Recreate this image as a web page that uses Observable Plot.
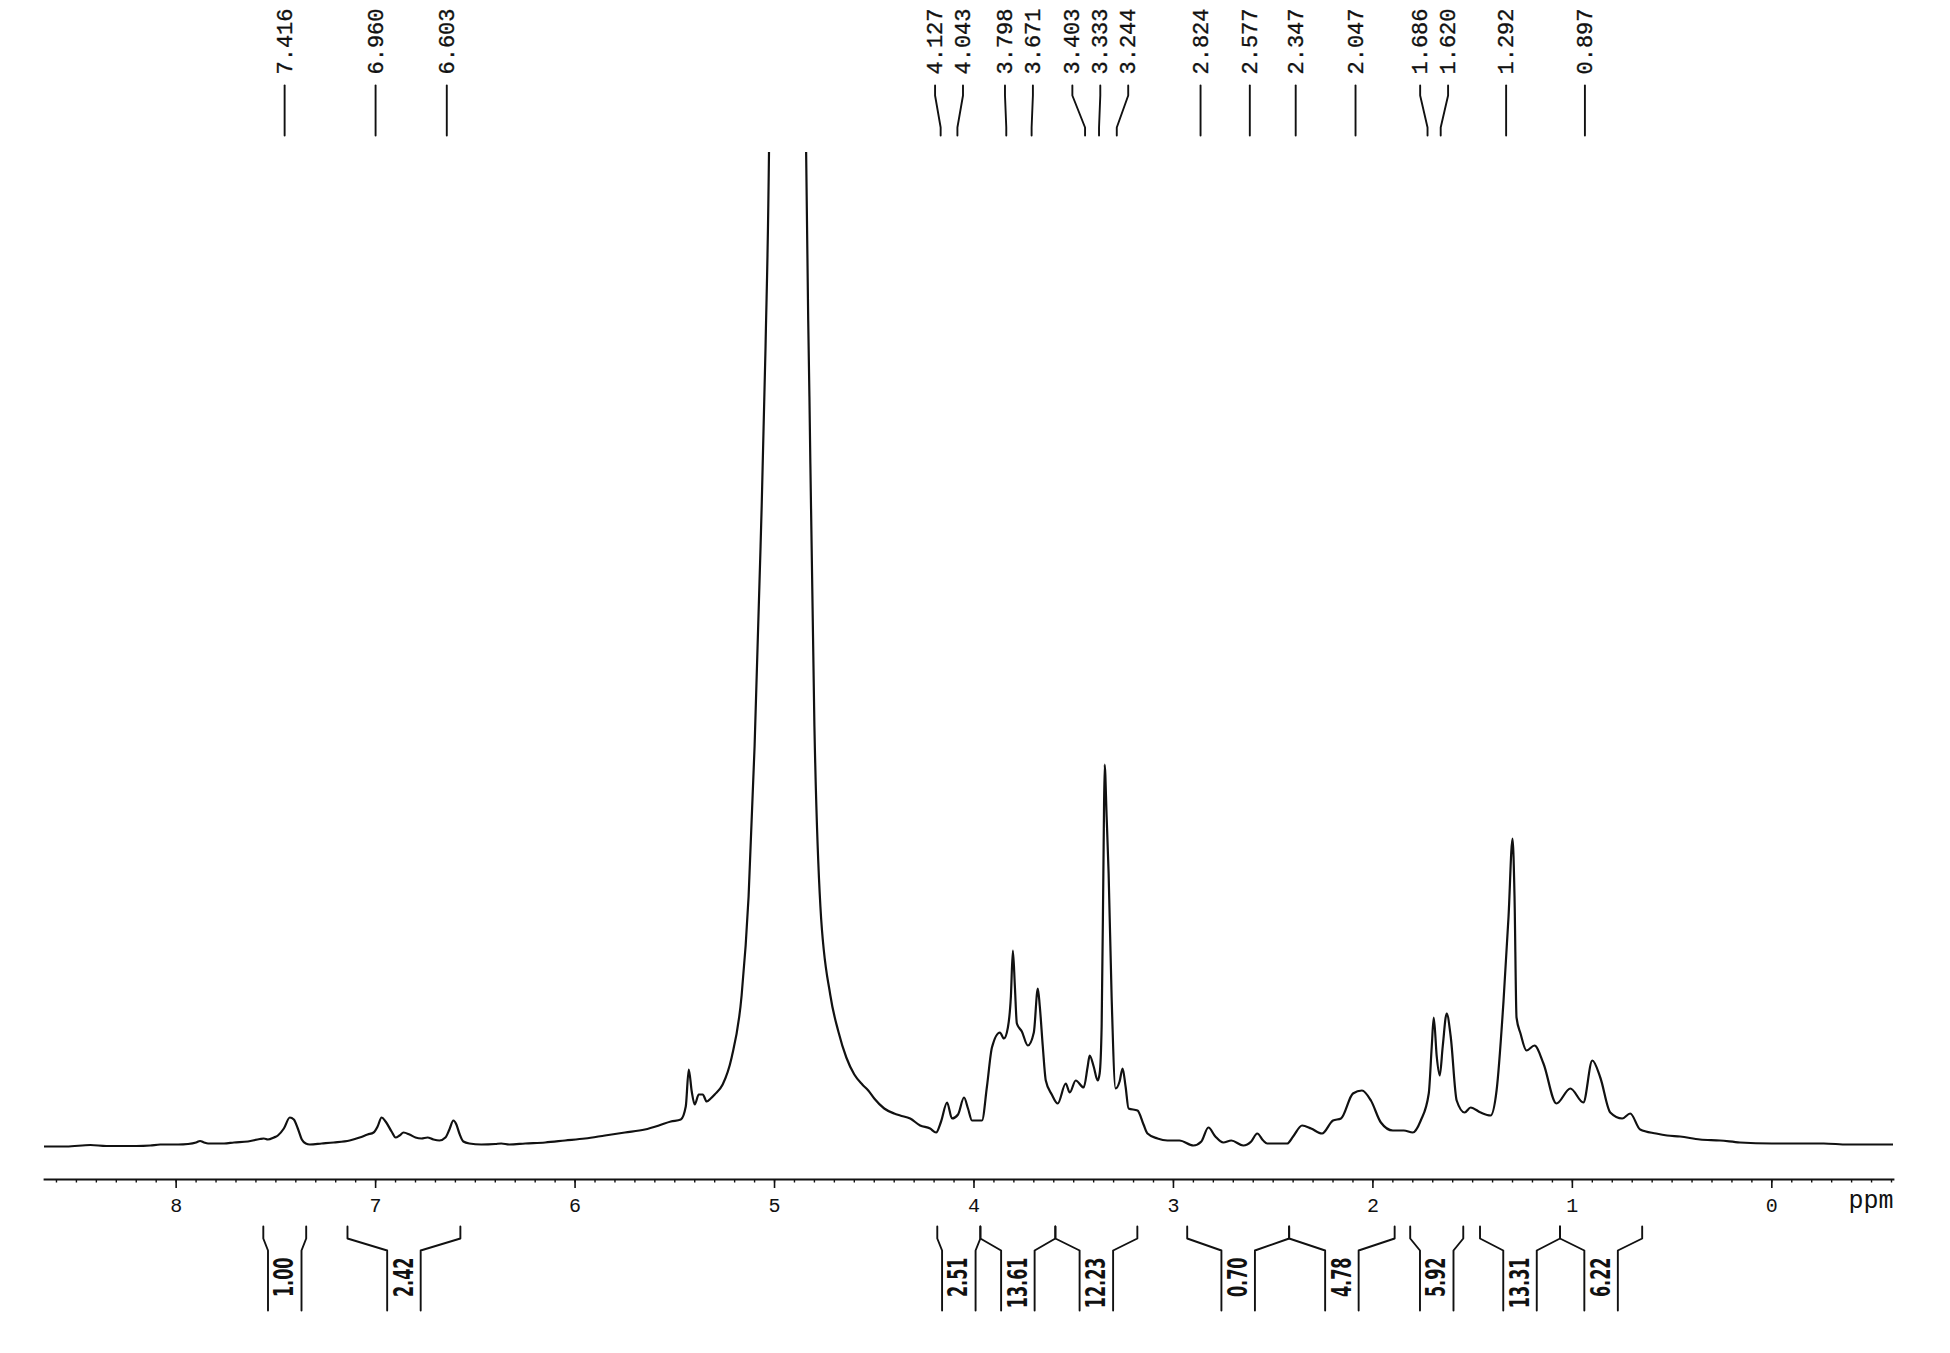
<!DOCTYPE html>
<html><head><meta charset="utf-8">
<script src="https://cdn.jsdelivr.net/npm/d3@7"></script>
<script src="https://cdn.jsdelivr.net/npm/@observablehq/plot@0.6"></script>
<style>body{margin:0;background:#fff}</style>
</head><body><div id="chart"></div>
<script>
// ---- data (chemical shift in ppm, intensity in arbitrary units) ----
const specPpm = [8.66,8.55,8.43,8.35,8.20,8.13,8.08,7.99,7.94,7.90,7.88,7.86,7.84,7.76,7.71,7.64,7.58,7.56,7.54,7.51,7.49,7.46,7.43,7.41,7.39,7.37,7.35,7.33,7.27,7.21,7.13,7.08,7.04,7.01,6.99,6.97,6.95,6.92,6.90,6.88,6.86,6.83,6.80,6.77,6.74,6.71,6.68,6.65,6.63,6.61,6.595,6.58,6.56,6.53,6.47,6.40,6.37,6.33,6.25,6.15,6.05,5.95,5.85,5.75,5.65,5.58,5.52,5.47,5.445,5.43,5.415,5.40,5.38,5.36,5.34,5.32,5.30,5.26,5.215,5.165,5.13,5.10,5.07,5.045,5.025,5.00,4.93,4.87,4.845,4.825,4.80,4.77,4.72,4.68,4.64,4.60,4.56,4.53,4.50,4.45,4.40,4.37,4.32,4.27,4.22,4.19,4.165,4.135,4.11,4.08,4.05,4.03,4.01,3.96,3.935,3.91,3.87,3.85,3.83,3.815,3.805,3.795,3.785,3.76,3.73,3.70,3.68,3.67,3.655,3.64,3.61,3.58,3.54,3.52,3.49,3.45,3.43,3.42,3.40,3.38,3.37,3.36,3.35,3.345,3.335,3.325,3.31,3.29,3.27,3.255,3.24,3.225,3.18,3.15,3.13,3.08,3.03,2.97,2.90,2.86,2.825,2.79,2.75,2.71,2.65,2.61,2.58,2.55,2.53,2.43,2.40,2.355,2.31,2.255,2.20,2.16,2.10,2.055,2.01,1.96,1.90,1.845,1.80,1.76,1.72,1.705,1.695,1.68,1.665,1.65,1.63,1.61,1.58,1.54,1.51,1.46,1.41,1.38,1.345,1.32,1.30,1.29,1.28,1.26,1.23,1.19,1.145,1.08,1.01,0.945,0.90,0.86,0.81,0.75,0.71,0.66,0.58,0.525,0.46,0.36,0.26,0.16,0.0,-0.26,-0.38,-0.61];
const specInt = [0,0,1.5,0.5,0.5,1,2,2,2.5,4,5.5,4,3,3,4,5,7.5,8,7,9,11,18,29,27,18,7,3,2,3,4,6,9,12,14,20,29,25,15,9,11,14,12,9,8,9,7,6,9,17,26,22,13,5,3,2,2.5,3,2,3,4,6,8,11,14,17,21,25,27,40,77,55,42,52,52,45,48,52,62,89,151,250,400,600,800,1050,2000,3500,2000,1050,750,420,240,151,115,89,72,62,56,48,38,33,31,28,21,18,14,25,44,28,32,49,38,26,26,60,99,114,108,119,150,196,160,123,115,101,114,158,140,100,66,52,43,63,54,66,59,80,91,80,66,73,120,300,382,330,273,150,58,65,78,60,38,36,22,13,8,6,6,1,5,19,10,4,6,1,5,13,6,3,3,10,21,18,13,26,28,53,56,46,24,16,16,14,26,53,100,129,90,71,100,133,110,46,34,39,34,31,56,146,230,308,250,129,113,96,101,83,43,58,44,86,69,34,28,33,17,13,11,10,7,6,4,3,3,2,2];

// peak picking labels (ppm)
const peakLabels = [7.416,6.960,6.603,4.127,4.043,3.798,3.671,3.403,3.333,3.244,2.824,2.577,2.347,2.047,1.686,1.620,1.292,0.897];

// integrals
const integralValues = ["1.00","2.42","2.51","13.61","12.23","0.70","4.78","5.92","13.31","6.22"];
const integralFrom = [7.563,7.141,4.184,3.968,3.592,2.931,2.420,1.813,1.463,1.062];
const integralTo   = [7.348,6.575,3.968,3.592,3.181,2.420,1.891,1.547,1.062,0.650];

// axis ticks
const majorTicks = [8,7,6,5,4,3,2,1,0];
const minorTicks = d3.range(-6, 87).map(d => d / 10);

// ---- layout constants (in intensity units, extrapolated above / below the frame) ----
const LABEL_TEXT = 1072, LINE_TOP = 1061, LINE_B1 = 1051, LINE_B2 = 1019, LINE_BOTTOM = 1011;
const INT_TOP = -80, INT_B1 = -92, INT_B2 = -104, INT_BOTTOM = -164, INT_TEXT = -111;
const LABEL_GAP = 0.14;   // minimum label separation in ppm
const COL_HALF = 0.084;   // half width of the integral column in ppm

const spectrum = specPpm.map((p, i) => ({ppm: p, v: specInt[i]}));

// spread peak labels so that they do not overlap
function spread(vals, gap) {
  let groups = vals.map(v => ({members: [v], center: v}));
  let changed = true;
  while (changed) {
    changed = false;
    for (let i = 0; i < groups.length - 1; i++) {
      const a = groups[i], b = groups[i + 1];
      const aLow = a.center - (a.members.length - 1) * gap / 2;
      const bHigh = b.center + (b.members.length - 1) * gap / 2;
      if (aLow - bHigh < gap - 1e-9) {
        const members = a.members.concat(b.members);
        groups.splice(i, 2, {members, center: d3.mean(members)});
        changed = true;
        break;
      }
    }
  }
  return groups.flatMap(g => g.members.map((m, j) => g.center + ((g.members.length - 1) / 2 - j) * gap));
}
const labelPos = spread(peakLabels, LABEL_GAP);
const labels = peakLabels.map((p, i) => ({peak: p, lx: labelPos[i], text: p.toFixed(3)}));
const labelLines = labels.flatMap(d => [
  {k: d.text, x: d.lx, y: LINE_TOP},
  {k: d.text, x: d.lx, y: LINE_B1},
  {k: d.text, x: d.peak, y: LINE_B2},
  {k: d.text, x: d.peak, y: LINE_BOTTOM}
]);

const integrals = integralValues.map((v, i) => ({v, from: integralFrom[i], to: integralTo[i], c: (integralFrom[i] + integralTo[i]) / 2}));
const integralLines = integrals.flatMap((d, i) => [
  {k: i + "L", x: d.from, y: INT_TOP}, {k: i + "L", x: d.from, y: INT_B1},
  {k: i + "L", x: d.c + COL_HALF, y: INT_B2}, {k: i + "L", x: d.c + COL_HALF, y: INT_BOTTOM},
  {k: i + "R", x: d.to, y: INT_TOP}, {k: i + "R", x: d.to, y: INT_B1},
  {k: i + "R", x: d.c - COL_HALF, y: INT_B2}, {k: i + "R", x: d.c - COL_HALF, y: INT_BOTTOM}
]);

const ink = "#111";
const mono = "'Liberation Mono', 'DejaVu Sans Mono', monospace";
const chart = Plot.plot({
  width: 1950,
  height: 1353,
  marginTop: 152,
  marginBottom: 174,
  marginLeft: 44,
  marginRight: 57,
  style: {background: "#fff", color: ink},
  x: {domain: [8.66, -0.61], label: null},
  y: {domain: [-33, 994], axis: null, label: null},
  marks: [
    Plot.frame({anchor: "bottom", stroke: ink, strokeWidth: 1.8}),
    Plot.axisX(minorTicks, {tickSize: 3.5, tickFormat: () => "", stroke: ink, strokeWidth: 1.4}),
    Plot.axisX(majorTicks, {tickSize: 9, tickPadding: 9, tickFormat: d => String(d), stroke: ink, strokeWidth: 1.6,
      fontSize: 20, fontFamily: mono, fill: ink}),
    Plot.text(["ppm"], {text: d => d, frameAnchor: "bottom-right", dy: 28, textAnchor: "end",
      fontSize: 25, fontFamily: mono, fill: ink}),
    Plot.line(spectrum, {x: "ppm", y: "v", stroke: ink, strokeWidth: 2.2, curve: "monotone-x", clip: true}),
    Plot.line(labelLines, {x: "x", y: "y", z: "k", stroke: ink, strokeWidth: 1.9, dx: -8}),
    Plot.text(labels, {x: "lx", y: () => LABEL_TEXT, text: "text", rotate: -90, textAnchor: "start", lineAnchor: "middle",
      dx: -8, fontSize: 22, fontFamily: mono, fill: ink, stroke: ink, strokeWidth: 0.35}),
    Plot.line(integralLines, {x: "x", y: "y", z: "k", stroke: ink, strokeWidth: 1.9}),
    Plot.text(integrals, {x: "c", y: () => INT_TEXT, text: "v", rotate: -90, textAnchor: "end", lineAnchor: "middle",
      fontSize: 27, fontWeight: "bold", fontFamily: "'DejaVu Sans Condensed', 'DejaVu Sans', sans-serif", fill: ink})
  ]
});
// make the integral numbers tall and narrow, like the printed spectrum
d3.select(chart).selectAll("text")
  .filter(function() { return integralValues.includes(this.textContent); })
  .each(function() {
    const t = this.getAttribute("transform") || "";
    this.setAttribute("transform", t + " scale(0.66,1)");
  });
document.getElementById("chart").appendChild(chart);
</script>
</body></html>
